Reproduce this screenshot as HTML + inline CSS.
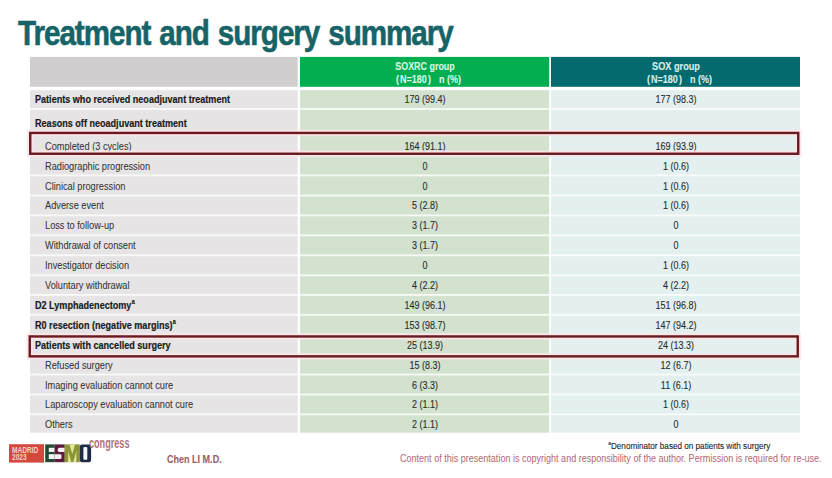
<!DOCTYPE html>
<html><head><meta charset="utf-8"><style>
html,body{margin:0;padding:0;background:#fff;width:832px;height:478px;overflow:hidden;position:relative;font-family:"Liberation Sans",sans-serif}
.t{position:absolute;white-space:nowrap}
.b{position:absolute}
sup{font-size:0.6em;vertical-align:0;position:relative;top:-0.72em;margin-left:0.05em}
</style></head><body>

<div class="t" style="left:17.50px;top:14.65px;font-size:35px;line-height:35px;font-weight:bold;color:#166468;-webkit-text-stroke:0.6px #166468;transform:scaleX(0.846);transform-origin:0 0;letter-spacing:-1.2px;word-spacing:2px">Treatment and surgery summary</div>
<svg class="b" style="left:0;top:0" width="832" height="478" viewBox="0 0 832 478"><rect x="30" y="56.9" width="267.7" height="29.90" fill="#d0cecf"/><rect x="300" y="56.9" width="249.20" height="29.90" fill="#02ae50"/><rect x="551" y="56.9" width="249.00" height="29.90" fill="#046a6e"/><rect x="30" y="90.2" width="267.70" height="342.50" fill="#e6e4e5"/><rect x="300" y="90.2" width="249.20" height="342.50" fill="#d3e2cf"/><rect x="551" y="90.2" width="249.00" height="342.50" fill="#e3f0ef"/><rect x="29" y="108.05" width="772" height="1.9" fill="#fbfdfb" fill-opacity="0.85"/><rect x="29" y="131.85" width="772" height="1.9" fill="#fbfdfb" fill-opacity="0.85"/><rect x="29" y="154.25" width="772" height="1.9" fill="#fbfdfb" fill-opacity="0.85"/><rect x="29" y="174.45" width="772" height="1.9" fill="#fbfdfb" fill-opacity="0.85"/><rect x="29" y="194.55" width="772" height="1.9" fill="#fbfdfb" fill-opacity="0.85"/><rect x="29" y="214.45" width="772" height="1.9" fill="#fbfdfb" fill-opacity="0.85"/><rect x="29" y="234.35" width="772" height="1.9" fill="#fbfdfb" fill-opacity="0.85"/><rect x="29" y="254.35" width="772" height="1.9" fill="#fbfdfb" fill-opacity="0.85"/><rect x="29" y="274.35" width="772" height="1.9" fill="#fbfdfb" fill-opacity="0.85"/><rect x="29" y="293.95" width="772" height="1.9" fill="#fbfdfb" fill-opacity="0.85"/><rect x="29" y="313.85" width="772" height="1.9" fill="#fbfdfb" fill-opacity="0.85"/><rect x="29" y="333.85" width="772" height="1.9" fill="#fbfdfb" fill-opacity="0.85"/><rect x="29" y="353.75" width="772" height="1.9" fill="#fbfdfb" fill-opacity="0.85"/><rect x="29" y="373.55" width="772" height="1.9" fill="#fbfdfb" fill-opacity="0.85"/><rect x="29" y="393.55" width="772" height="1.9" fill="#fbfdfb" fill-opacity="0.85"/><rect x="29" y="413.35" width="772" height="1.9" fill="#fbfdfb" fill-opacity="0.85"/></svg>
<div class="t" style="left:124.50px;width:600px;text-align:center;top:61.39px;font-size:10.6px;line-height:10.6px;font-weight:bold;color:#dcf8e4;-webkit-text-stroke:0.1px #dcf8e4;transform:scaleX(0.843);transform-origin:50% 0;">SOXRC group</div>
<div class="t" style="left:375.60px;width:600px;text-align:center;top:61.39px;font-size:10.6px;line-height:10.6px;font-weight:bold;color:#d8f0ee;-webkit-text-stroke:0.1px #d8f0ee;transform:scaleX(0.867);transform-origin:50% 0;">SOX group</div>
<div class="t" style="left:395.80px;top:74.09px;font-size:10.6px;line-height:10.6px;font-weight:bold;color:#dcf8e4;-webkit-text-stroke:0.1px #dcf8e4;transform:scaleX(0.85);transform-origin:0 0;">(</div>
<div class="t" style="left:399.70px;top:74.09px;font-size:10.6px;line-height:10.6px;font-weight:bold;color:#dcf8e4;-webkit-text-stroke:0.1px #dcf8e4;transform:scaleX(0.85);transform-origin:0 0;">N=180</div>
<div class="t" style="left:428.20px;top:74.09px;font-size:10.6px;line-height:10.6px;font-weight:bold;color:#dcf8e4;-webkit-text-stroke:0.1px #dcf8e4;transform:scaleX(0.85);transform-origin:0 0;">)</div>
<div class="t" style="left:438.50px;top:74.09px;font-size:10.6px;line-height:10.6px;font-weight:bold;color:#dcf8e4;-webkit-text-stroke:0.1px #dcf8e4;transform:scaleX(0.85);transform-origin:0 0;">n (%)</div>
<div class="t" style="left:646.80px;top:74.09px;font-size:10.6px;line-height:10.6px;font-weight:bold;color:#d8f0ee;-webkit-text-stroke:0.1px #d8f0ee;transform:scaleX(0.85);transform-origin:0 0;">(</div>
<div class="t" style="left:650.70px;top:74.09px;font-size:10.6px;line-height:10.6px;font-weight:bold;color:#d8f0ee;-webkit-text-stroke:0.1px #d8f0ee;transform:scaleX(0.85);transform-origin:0 0;">N=180</div>
<div class="t" style="left:679.20px;top:74.09px;font-size:10.6px;line-height:10.6px;font-weight:bold;color:#d8f0ee;-webkit-text-stroke:0.1px #d8f0ee;transform:scaleX(0.85);transform-origin:0 0;">)</div>
<div class="t" style="left:689.50px;top:74.09px;font-size:10.6px;line-height:10.6px;font-weight:bold;color:#d8f0ee;-webkit-text-stroke:0.1px #d8f0ee;transform:scaleX(0.85);transform-origin:0 0;">n (%)</div>
<div class="t" style="left:35.10px;top:93.99px;font-size:10.6px;line-height:10.6px;font-weight:bold;color:#1a1a1a;-webkit-text-stroke:0.18px #1a1a1a;transform:scaleX(0.856);transform-origin:0 0;">Patients who received neoadjuvant treatment</div>
<div class="t" style="left:124.50px;width:600px;text-align:center;top:93.99px;font-size:10.6px;line-height:10.6px;font-weight:normal;color:#2a2a2a;-webkit-text-stroke:0.1px #2a2a2a;transform:scaleX(0.85);transform-origin:50% 0;">179 (99.4)</div>
<div class="t" style="left:375.50px;width:600px;text-align:center;top:93.99px;font-size:10.6px;line-height:10.6px;font-weight:normal;color:#2a2a2a;-webkit-text-stroke:0.1px #2a2a2a;transform:scaleX(0.85);transform-origin:50% 0;">177 (98.3)</div>
<div class="t" style="left:35.10px;top:117.69px;font-size:10.6px;line-height:10.6px;font-weight:bold;color:#1a1a1a;-webkit-text-stroke:0.18px #1a1a1a;transform:scaleX(0.856);transform-origin:0 0;">Reasons off neoadjuvant treatment</div>
<div class="t" style="left:44.80px;top:140.79px;font-size:10.6px;line-height:10.6px;font-weight:normal;color:#333;-webkit-text-stroke:0.05px #333;transform:scaleX(0.87);transform-origin:0 0;">Completed (3 cycles)</div>
<div class="t" style="left:124.50px;width:600px;text-align:center;top:140.79px;font-size:10.6px;line-height:10.6px;font-weight:normal;color:#2a2a2a;-webkit-text-stroke:0.1px #2a2a2a;transform:scaleX(0.85);transform-origin:50% 0;">164 (91.1)</div>
<div class="t" style="left:375.50px;width:600px;text-align:center;top:140.79px;font-size:10.6px;line-height:10.6px;font-weight:normal;color:#2a2a2a;-webkit-text-stroke:0.1px #2a2a2a;transform:scaleX(0.85);transform-origin:50% 0;">169 (93.9)</div>
<div class="t" style="left:44.80px;top:160.69px;font-size:10.6px;line-height:10.6px;font-weight:normal;color:#333;-webkit-text-stroke:0.05px #333;transform:scaleX(0.87);transform-origin:0 0;">Radiographic progression</div>
<div class="t" style="left:124.50px;width:600px;text-align:center;top:160.69px;font-size:10.6px;line-height:10.6px;font-weight:normal;color:#2a2a2a;-webkit-text-stroke:0.1px #2a2a2a;transform:scaleX(0.85);transform-origin:50% 0;">0</div>
<div class="t" style="left:375.50px;width:600px;text-align:center;top:160.69px;font-size:10.6px;line-height:10.6px;font-weight:normal;color:#2a2a2a;-webkit-text-stroke:0.1px #2a2a2a;transform:scaleX(0.85);transform-origin:50% 0;">1 (0.6)</div>
<div class="t" style="left:44.80px;top:180.59px;font-size:10.6px;line-height:10.6px;font-weight:normal;color:#333;-webkit-text-stroke:0.05px #333;transform:scaleX(0.87);transform-origin:0 0;">Clinical progression</div>
<div class="t" style="left:124.50px;width:600px;text-align:center;top:180.59px;font-size:10.6px;line-height:10.6px;font-weight:normal;color:#2a2a2a;-webkit-text-stroke:0.1px #2a2a2a;transform:scaleX(0.85);transform-origin:50% 0;">0</div>
<div class="t" style="left:375.50px;width:600px;text-align:center;top:180.59px;font-size:10.6px;line-height:10.6px;font-weight:normal;color:#2a2a2a;-webkit-text-stroke:0.1px #2a2a2a;transform:scaleX(0.85);transform-origin:50% 0;">1 (0.6)</div>
<div class="t" style="left:44.80px;top:200.49px;font-size:10.6px;line-height:10.6px;font-weight:normal;color:#333;-webkit-text-stroke:0.05px #333;transform:scaleX(0.87);transform-origin:0 0;">Adverse event</div>
<div class="t" style="left:124.50px;width:600px;text-align:center;top:200.49px;font-size:10.6px;line-height:10.6px;font-weight:normal;color:#2a2a2a;-webkit-text-stroke:0.1px #2a2a2a;transform:scaleX(0.85);transform-origin:50% 0;">5 (2.8)</div>
<div class="t" style="left:375.50px;width:600px;text-align:center;top:200.49px;font-size:10.6px;line-height:10.6px;font-weight:normal;color:#2a2a2a;-webkit-text-stroke:0.1px #2a2a2a;transform:scaleX(0.85);transform-origin:50% 0;">1 (0.6)</div>
<div class="t" style="left:44.80px;top:220.39px;font-size:10.6px;line-height:10.6px;font-weight:normal;color:#333;-webkit-text-stroke:0.05px #333;transform:scaleX(0.87);transform-origin:0 0;">Loss to follow-up</div>
<div class="t" style="left:124.50px;width:600px;text-align:center;top:220.39px;font-size:10.6px;line-height:10.6px;font-weight:normal;color:#2a2a2a;-webkit-text-stroke:0.1px #2a2a2a;transform:scaleX(0.85);transform-origin:50% 0;">3 (1.7)</div>
<div class="t" style="left:375.50px;width:600px;text-align:center;top:220.39px;font-size:10.6px;line-height:10.6px;font-weight:normal;color:#2a2a2a;-webkit-text-stroke:0.1px #2a2a2a;transform:scaleX(0.85);transform-origin:50% 0;">0</div>
<div class="t" style="left:44.80px;top:240.29px;font-size:10.6px;line-height:10.6px;font-weight:normal;color:#333;-webkit-text-stroke:0.05px #333;transform:scaleX(0.87);transform-origin:0 0;">Withdrawal of consent</div>
<div class="t" style="left:124.50px;width:600px;text-align:center;top:240.29px;font-size:10.6px;line-height:10.6px;font-weight:normal;color:#2a2a2a;-webkit-text-stroke:0.1px #2a2a2a;transform:scaleX(0.85);transform-origin:50% 0;">3 (1.7)</div>
<div class="t" style="left:375.50px;width:600px;text-align:center;top:240.29px;font-size:10.6px;line-height:10.6px;font-weight:normal;color:#2a2a2a;-webkit-text-stroke:0.1px #2a2a2a;transform:scaleX(0.85);transform-origin:50% 0;">0</div>
<div class="t" style="left:44.80px;top:260.19px;font-size:10.6px;line-height:10.6px;font-weight:normal;color:#333;-webkit-text-stroke:0.05px #333;transform:scaleX(0.87);transform-origin:0 0;">Investigator decision</div>
<div class="t" style="left:124.50px;width:600px;text-align:center;top:260.19px;font-size:10.6px;line-height:10.6px;font-weight:normal;color:#2a2a2a;-webkit-text-stroke:0.1px #2a2a2a;transform:scaleX(0.85);transform-origin:50% 0;">0</div>
<div class="t" style="left:375.50px;width:600px;text-align:center;top:260.19px;font-size:10.6px;line-height:10.6px;font-weight:normal;color:#2a2a2a;-webkit-text-stroke:0.1px #2a2a2a;transform:scaleX(0.85);transform-origin:50% 0;">1 (0.6)</div>
<div class="t" style="left:44.80px;top:280.09px;font-size:10.6px;line-height:10.6px;font-weight:normal;color:#333;-webkit-text-stroke:0.05px #333;transform:scaleX(0.87);transform-origin:0 0;">Voluntary withdrawal</div>
<div class="t" style="left:124.50px;width:600px;text-align:center;top:280.09px;font-size:10.6px;line-height:10.6px;font-weight:normal;color:#2a2a2a;-webkit-text-stroke:0.1px #2a2a2a;transform:scaleX(0.85);transform-origin:50% 0;">4 (2.2)</div>
<div class="t" style="left:375.50px;width:600px;text-align:center;top:280.09px;font-size:10.6px;line-height:10.6px;font-weight:normal;color:#2a2a2a;-webkit-text-stroke:0.1px #2a2a2a;transform:scaleX(0.85);transform-origin:50% 0;">4 (2.2)</div>
<div class="t" style="left:35.10px;top:299.99px;font-size:10.6px;line-height:10.6px;font-weight:bold;color:#1a1a1a;-webkit-text-stroke:0.18px #1a1a1a;transform:scaleX(0.856);transform-origin:0 0;">D2 Lymphadenectomy<sup>a</sup></div>
<div class="t" style="left:124.50px;width:600px;text-align:center;top:299.99px;font-size:10.6px;line-height:10.6px;font-weight:normal;color:#2a2a2a;-webkit-text-stroke:0.1px #2a2a2a;transform:scaleX(0.85);transform-origin:50% 0;">149 (96.1)</div>
<div class="t" style="left:375.50px;width:600px;text-align:center;top:299.99px;font-size:10.6px;line-height:10.6px;font-weight:normal;color:#2a2a2a;-webkit-text-stroke:0.1px #2a2a2a;transform:scaleX(0.85);transform-origin:50% 0;">151 (96.8)</div>
<div class="t" style="left:35.10px;top:319.89px;font-size:10.6px;line-height:10.6px;font-weight:bold;color:#1a1a1a;-webkit-text-stroke:0.18px #1a1a1a;transform:scaleX(0.856);transform-origin:0 0;">R0 resection (negative margins)<sup>a</sup></div>
<div class="t" style="left:124.50px;width:600px;text-align:center;top:319.89px;font-size:10.6px;line-height:10.6px;font-weight:normal;color:#2a2a2a;-webkit-text-stroke:0.1px #2a2a2a;transform:scaleX(0.85);transform-origin:50% 0;">153 (98.7)</div>
<div class="t" style="left:375.50px;width:600px;text-align:center;top:319.89px;font-size:10.6px;line-height:10.6px;font-weight:normal;color:#2a2a2a;-webkit-text-stroke:0.1px #2a2a2a;transform:scaleX(0.85);transform-origin:50% 0;">147 (94.2)</div>
<div class="t" style="left:35.10px;top:339.79px;font-size:10.6px;line-height:10.6px;font-weight:bold;color:#1a1a1a;-webkit-text-stroke:0.18px #1a1a1a;transform:scaleX(0.856);transform-origin:0 0;">Patients with cancelled surgery</div>
<div class="t" style="left:124.50px;width:600px;text-align:center;top:339.79px;font-size:10.6px;line-height:10.6px;font-weight:normal;color:#2a2a2a;-webkit-text-stroke:0.1px #2a2a2a;transform:scaleX(0.85);transform-origin:50% 0;">25 (13.9)</div>
<div class="t" style="left:375.50px;width:600px;text-align:center;top:339.79px;font-size:10.6px;line-height:10.6px;font-weight:normal;color:#2a2a2a;-webkit-text-stroke:0.1px #2a2a2a;transform:scaleX(0.85);transform-origin:50% 0;">24 (13.3)</div>
<div class="t" style="left:44.80px;top:359.69px;font-size:10.6px;line-height:10.6px;font-weight:normal;color:#333;-webkit-text-stroke:0.05px #333;transform:scaleX(0.87);transform-origin:0 0;">Refused surgery</div>
<div class="t" style="left:124.50px;width:600px;text-align:center;top:359.69px;font-size:10.6px;line-height:10.6px;font-weight:normal;color:#2a2a2a;-webkit-text-stroke:0.1px #2a2a2a;transform:scaleX(0.85);transform-origin:50% 0;">15 (8.3)</div>
<div class="t" style="left:375.50px;width:600px;text-align:center;top:359.69px;font-size:10.6px;line-height:10.6px;font-weight:normal;color:#2a2a2a;-webkit-text-stroke:0.1px #2a2a2a;transform:scaleX(0.85);transform-origin:50% 0;">12 (6.7)</div>
<div class="t" style="left:44.80px;top:379.59px;font-size:10.6px;line-height:10.6px;font-weight:normal;color:#333;-webkit-text-stroke:0.05px #333;transform:scaleX(0.87);transform-origin:0 0;">Imaging evaluation cannot cure</div>
<div class="t" style="left:124.50px;width:600px;text-align:center;top:379.59px;font-size:10.6px;line-height:10.6px;font-weight:normal;color:#2a2a2a;-webkit-text-stroke:0.1px #2a2a2a;transform:scaleX(0.85);transform-origin:50% 0;">6 (3.3)</div>
<div class="t" style="left:375.50px;width:600px;text-align:center;top:379.59px;font-size:10.6px;line-height:10.6px;font-weight:normal;color:#2a2a2a;-webkit-text-stroke:0.1px #2a2a2a;transform:scaleX(0.85);transform-origin:50% 0;">11 (6.1)</div>
<div class="t" style="left:44.80px;top:399.49px;font-size:10.6px;line-height:10.6px;font-weight:normal;color:#333;-webkit-text-stroke:0.05px #333;transform:scaleX(0.87);transform-origin:0 0;">Laparoscopy evaluation cannot cure</div>
<div class="t" style="left:124.50px;width:600px;text-align:center;top:399.49px;font-size:10.6px;line-height:10.6px;font-weight:normal;color:#2a2a2a;-webkit-text-stroke:0.1px #2a2a2a;transform:scaleX(0.85);transform-origin:50% 0;">2 (1.1)</div>
<div class="t" style="left:375.50px;width:600px;text-align:center;top:399.49px;font-size:10.6px;line-height:10.6px;font-weight:normal;color:#2a2a2a;-webkit-text-stroke:0.1px #2a2a2a;transform:scaleX(0.85);transform-origin:50% 0;">1 (0.6)</div>
<div class="t" style="left:44.80px;top:419.39px;font-size:10.6px;line-height:10.6px;font-weight:normal;color:#333;-webkit-text-stroke:0.05px #333;transform:scaleX(0.87);transform-origin:0 0;">Others</div>
<div class="t" style="left:124.50px;width:600px;text-align:center;top:419.39px;font-size:10.6px;line-height:10.6px;font-weight:normal;color:#2a2a2a;-webkit-text-stroke:0.1px #2a2a2a;transform:scaleX(0.85);transform-origin:50% 0;">2 (1.1)</div>
<div class="t" style="left:375.50px;width:600px;text-align:center;top:419.39px;font-size:10.6px;line-height:10.6px;font-weight:normal;color:#2a2a2a;-webkit-text-stroke:0.1px #2a2a2a;transform:scaleX(0.85);transform-origin:50% 0;">0</div>
<svg class="b" style="left:0;top:0" width="832" height="478" viewBox="0 0 832 478"><rect x="30.25" y="132.95" width="768.00" height="20.80" fill="none" stroke="#fde4e8" stroke-opacity="0.85" stroke-width="6.5"/><rect x="30.25" y="132.95" width="768.00" height="20.80" fill="none" stroke="#681a1e" stroke-width="2.4"/><rect x="29.75" y="336.45" width="768.00" height="19.90" fill="none" stroke="#fde4e8" stroke-opacity="0.85" stroke-width="6.5"/><rect x="29.75" y="336.45" width="768.00" height="19.90" fill="none" stroke="#681a1e" stroke-width="2.4"/></svg>
<div class="t" style="left:607.60px;top:441.98px;font-size:9.2px;line-height:9.2px;font-weight:normal;color:#222;-webkit-text-stroke:0.1px #222;transform:scaleX(0.886);transform-origin:0 0;"><sup>a</sup>Denominator based on patients with surgery</div>
<div class="t" style="left:400.00px;top:454.46px;font-size:10.4px;line-height:10.4px;font-weight:normal;color:#b06872;-webkit-text-stroke:0px #b06872;transform:scaleX(0.869);transform-origin:0 0;">Content of this presentation is copyright and responsibility of the author. Permission is required for re-use.</div>
<div class="t" style="left:166.80px;top:453.52px;font-size:10.8px;line-height:10.8px;font-weight:bold;color:#9c5c66;-webkit-text-stroke:0.1px #9c5c66;transform:scaleX(0.836);transform-origin:0 0;">Chen LI M.D.</div>
<svg class="b" style="left:0;top:0" width="832" height="478" viewBox="0 0 832 478">
<rect x="9" y="444.2" width="35" height="18.4" fill="#d4493d"/>
<rect x="45.2" y="444.4" width="9.5" height="17.8" fill="#234a32"/>
<rect x="48.8" y="447.8" width="6" height="4.1" fill="#f4f8f2"/>
<rect x="48.8" y="454.2" width="6" height="4.8" fill="#f4f8f2"/>
<rect x="54.6" y="444.4" width="10.2" height="17.8" fill="#5c1d3c"/>
<path d="M59.5 447.8 L64.8 447.8 L64.8 451.9 L59 451.9 Q57.8 451.9 57.8 450.5 L57.8 449.4 Q57.8 447.8 59.5 447.8 Z" fill="#f6eef2"/>
<path d="M54.6 454.2 L60.2 454.2 Q61.5 454.2 61.5 455.6 L61.5 457.4 Q61.5 459 60 459 L54.6 459 Z" fill="#f6eef2"/>
<rect x="64.6" y="444.4" width="15.2" height="17.8" fill="#8c9636"/>
<path d="M69.5 444.4 L75 444.4 L72.3 454 Z" fill="#e2e7a0"/>
<path d="M68.2 451 L71.2 462.2 L68.2 462.2 Z" fill="#e2e7a0"/>
<path d="M76.3 451 L73.3 462.2 L76.3 462.2 Z" fill="#e2e7a0"/>
<rect x="79.8" y="444.4" width="11.3" height="17.8" rx="2.2" fill="#1e2b40"/>
<rect x="83.4" y="447" width="3.9" height="12.7" rx="1" fill="#f4f6f8"/>
</svg>
<div class="t" style="left:11.80px;top:445.58px;font-size:9.2px;line-height:9.2px;font-weight:bold;color:#f6cfc8;-webkit-text-stroke:0px #f6cfc8;transform:scaleX(0.715);transform-origin:0 0;">MADRID</div>
<div class="t" style="left:11.80px;top:453.38px;font-size:9.2px;line-height:9.2px;font-weight:bold;color:#f6cfc8;-webkit-text-stroke:0px #f6cfc8;transform:scaleX(0.715);transform-origin:0 0;">2023</div>
<div class="t" style="left:89.40px;top:436.40px;font-size:14px;line-height:14px;font-weight:bold;color:#b07276;-webkit-text-stroke:0px #b07276;transform:scaleX(0.65);transform-origin:0 0;">congress</div>
</body></html>
